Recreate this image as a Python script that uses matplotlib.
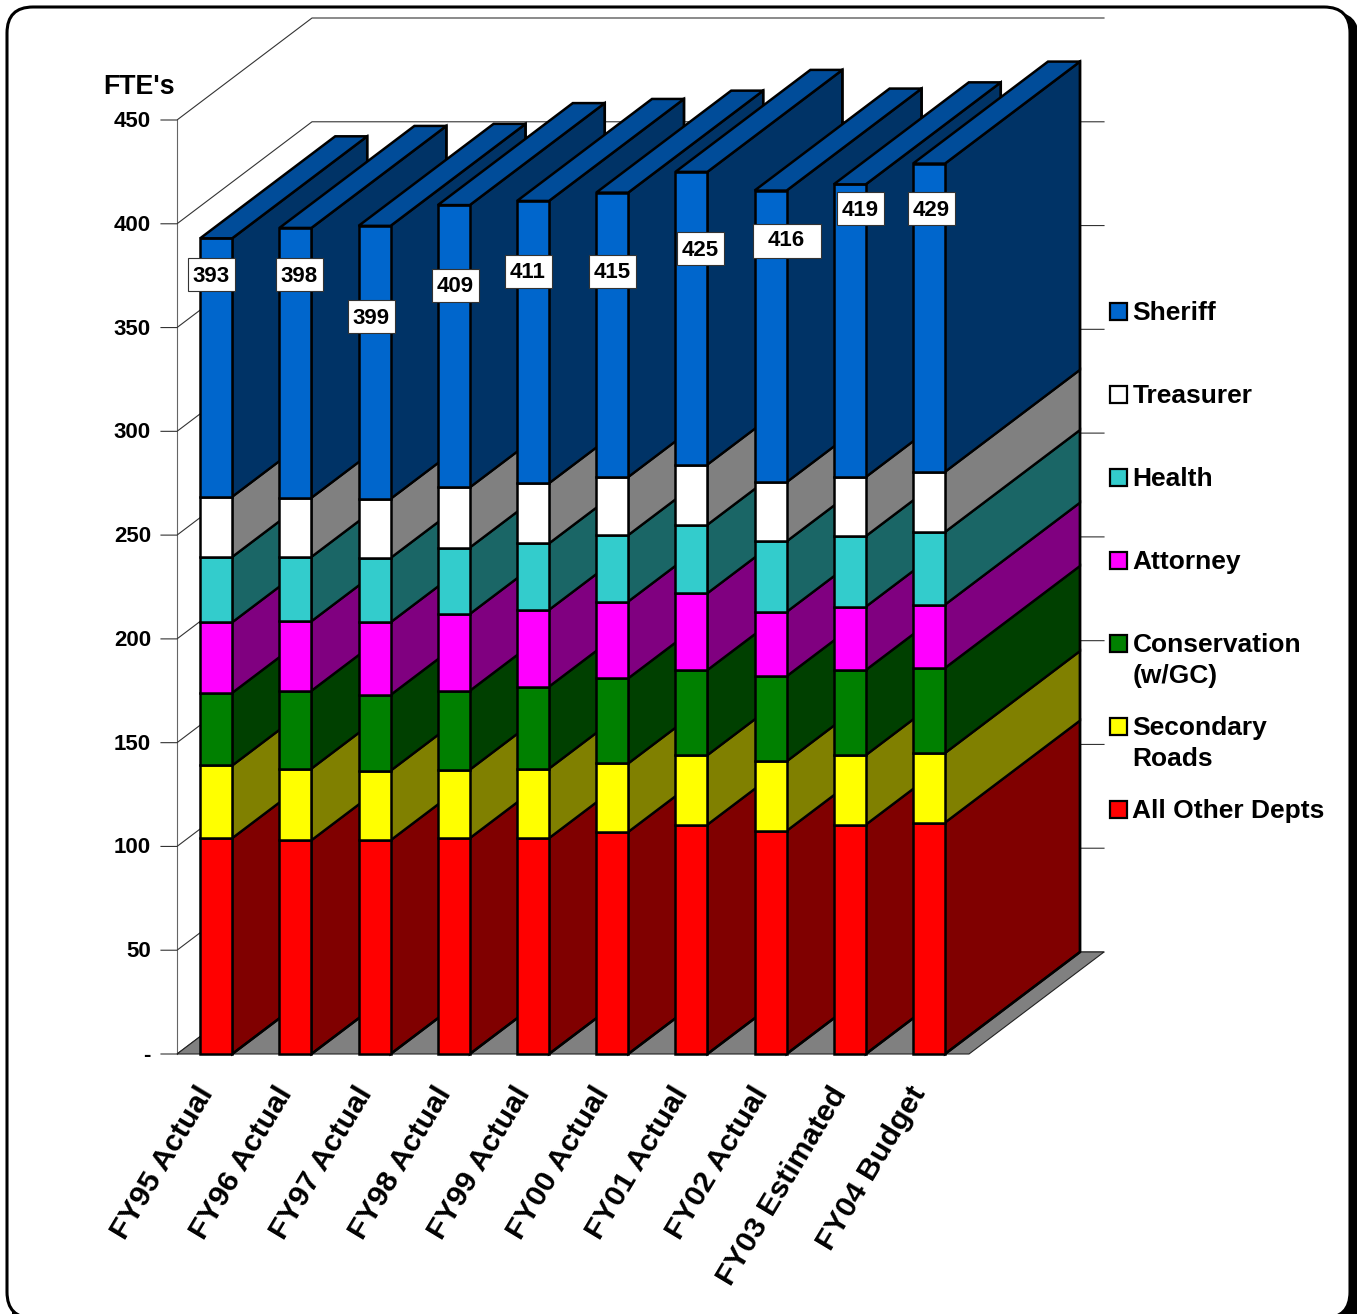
import matplotlib
matplotlib.use("Agg")
import matplotlib.pyplot as plt
from matplotlib.patches import FancyBboxPatch, Polygon, Rectangle

plt.rcParams['font.family'] = ['Liberation Sans', 'DejaVu Sans']
plt.rcParams['font.weight'] = 'bold'

years = ['FY95 Actual', 'FY96 Actual', 'FY97 Actual', 'FY98 Actual', 'FY99 Actual',
         'FY00 Actual', 'FY01 Actual', 'FY02 Actual', 'FY03 Estimated', 'FY04 Budget']

# FTE counts per department, stacked bottom to top
other = [104, 103, 103, 104, 104, 107, 110.5, 107.5, 110.5, 111.5]
secondary = [35, 34.5, 33.5, 33, 33.5, 33, 33.5, 33.5, 33.5, 33.5]
conservation = [35, 37.5, 36.5, 38, 39.5, 41, 41, 41, 41, 41]
attorney = [34, 33.5, 35, 37, 37, 37, 37, 31, 30.5, 30.5]
health = [31.5, 31, 31, 32, 32, 32, 33, 34, 34, 35]
treasurer = [29, 28.5, 28.5, 29, 29, 28, 29, 28.5, 28.5, 29]
sheriff = [124.5, 130, 131.5, 136, 136, 137, 141, 140.5, 141, 148.5]
totals = [393, 398, 399, 409, 411, 415, 425, 416, 419, 429]

series = [other, secondary, conservation, attorney, health, treasurer, sheriff]
front_colors = ['#FF0000', '#FFFF00', '#008000', '#FF00FF', '#33CCCC', '#FFFFFF', '#0066CC']
side_colors = ['#800000', '#808000', '#004000', '#800080', '#1A6666', '#808080', '#003366']
top_color = '#004C99'

legend_names = ['Sheriff', 'Treasurer', 'Health', 'Attorney', 'Conservation\n(w/GC)',
                'Secondary\nRoads', 'All Other Depts']
legend_colors = front_colors[::-1]
legend_y = [311, 394, 477, 560, 643, 726, 809]

y_ticks = [0, 50, 100, 150, 200, 250, 300, 350, 400, 450]
y_tick_labels = ['-', '50', '100', '150', '200', '250', '300', '350', '400', '450']

# total-label boxes on the page: left, top, right, bottom
label_boxes = [(188, 258, 235, 291), (276, 258, 323, 291), (348, 300, 395, 333),
               (432, 269, 479, 302), (505, 255, 552, 288), (589, 255, 636, 288),
               (677, 232, 724, 265), (753, 224, 821, 258), (837, 192, 884, 225),
               (908, 192, 955, 225)]
label_text_shift = [-1, -1, -1, -1, -1, -1, -1, -3, -1, -1]

W, H = 1357, 1314
X0_PX, Y0_PX = 177, 1054
SLOT_PX = 79.2
UNIT_PX = 934 / 450
DEPTH_X = 135 / SLOT_PX
DEPTH_Y = 102 / UNIT_PX
BAR_W = 32 / SLOT_PX
N = len(years)
TOP = 450


def main():
    fig = plt.figure(figsize=(W / 100, H / 100), dpi=100, facecolor='white')

    # page layer in pixels: rounded card, legend, label boxes
    page = fig.add_axes([0, 0, 1, 1], zorder=0)
    page.set_xlim(0, W)
    page.set_ylim(H, 0)
    page.axis('off')
    page.add_patch(FancyBboxPatch((12, 12), 1347, 1330, boxstyle='round,pad=0,rounding_size=26',
                                  fc='black', ec='black', lw=0))
    page.add_patch(FancyBboxPatch((7, 7), 1343, 1311, boxstyle='round,pad=0,rounding_size=26',
                                  fc='white', ec='black', lw=2.2))

    # chart layer: x in category slots, y in FTEs
    ax = fig.add_axes([0, 0, 1, 1], zorder=1)
    ax.set_xlim(-X0_PX / SLOT_PX, (W - X0_PX) / SLOT_PX)
    ax.set_ylim(-(H - Y0_PX) / UNIT_PX, Y0_PX / UNIT_PX)
    ax.axis('off')
    ax.patch.set_alpha(0)

    # floor
    floor = [(0, 0), (N, 0), (N + DEPTH_X, DEPTH_Y), (DEPTH_X, DEPTH_Y)]
    ax.add_patch(Polygon(floor, closed=True, fc='#808080', ec='#222222', lw=0.8, zorder=1))

    # left wall and gridlines
    ax.plot([0, 0], [0, TOP], color='#666666', lw=0.8, zorder=0.5)
    tick_x = -16 / SLOT_PX
    for t, lab in zip(y_ticks, y_tick_labels):
        ax.plot([tick_x, 0, DEPTH_X, N + DEPTH_X],
                [t, t, t + DEPTH_Y, t + DEPTH_Y], color='#333333', lw=0.8, zorder=0.5)
        ax.text(-26 / SLOT_PX, t + 0.5, lab, ha='right', va='center_baseline', fontsize=16, color='black')
    ax.text(-2 / SLOT_PX, 450 + 36 / UNIT_PX, "FTE's", ha='right', va='center_baseline',
            fontsize=19.3, color='black')

    # bars, left to right so that each covers the side of the previous one
    z = 2
    for i in range(N):
        x0 = i + 0.5 - BAR_W / 2 - 0.005
        x1 = x0 + BAR_W
        base = 0
        for vals, fc, sc in zip(series, front_colors, side_colors):
            top = base + vals[i]
            side = [(x1, base), (x1 + DEPTH_X, base + DEPTH_Y),
                    (x1 + DEPTH_X, top + DEPTH_Y), (x1, top)]
            ax.add_patch(Polygon(side, closed=True, fc=sc, ec='black', lw=1.7,
                                 joinstyle='miter', zorder=z))
            ax.add_patch(Rectangle((x0, base), BAR_W, vals[i], fc=fc, ec='black', lw=1.8,
                                   joinstyle='miter', zorder=z + 0.1))
            base = top
        roof = [(x0, base), (x1, base), (x1 + DEPTH_X, base + DEPTH_Y), (x0 + DEPTH_X, base + DEPTH_Y)]
        ax.add_patch(Polygon(roof, closed=True, fc=top_color, ec='black', lw=1.8,
                             joinstyle='miter', zorder=z + 0.2))
        # outline of the whole side face
        ax.plot([x1, x1 + DEPTH_X, x1 + DEPTH_X], [0, DEPTH_Y, base + DEPTH_Y], color='black',
                lw=1.8, zorder=z + 0.05)
        ax.text(i + 0.5 - 0.27, -28 / UNIT_PX, years[i], rotation=59, rotation_mode='anchor',
                ha='right', va='top', fontsize=21.9, color='black')
        z += 1

    # total labels above the bars
    over = fig.add_axes([0, 0, 1, 1], zorder=2)
    over.set_xlim(0, W)
    over.set_ylim(H, 0)
    over.axis('off')
    over.patch.set_alpha(0)
    for total, (l, t, r, b), dy in zip(totals, label_boxes, label_text_shift):
        over.add_patch(Rectangle((l, t), r - l, b - t, fc='white', ec='#333333', lw=0.8))
        over.text((l + r) / 2 - 0.5, (t + b) / 2 + dy, str(total), ha='center', va='center_baseline',
                  fontsize=16, color='black')

    # legend
    for name, col, y in zip(legend_names, legend_colors, legend_y):
        over.add_patch(Rectangle((1109.5, y - 8.5), 17, 17, fc=col, ec='black', lw=1.6))
        for k, line in enumerate(name.split('\n')):
            over.text(1132.5, y + 9 + 31.5 * k, line, ha='left', va='baseline',
                      fontsize=19, color='black')

    fig.savefig('out.png', dpi=100)
    plt.close(fig)


if __name__ == "__main__":
    main()
